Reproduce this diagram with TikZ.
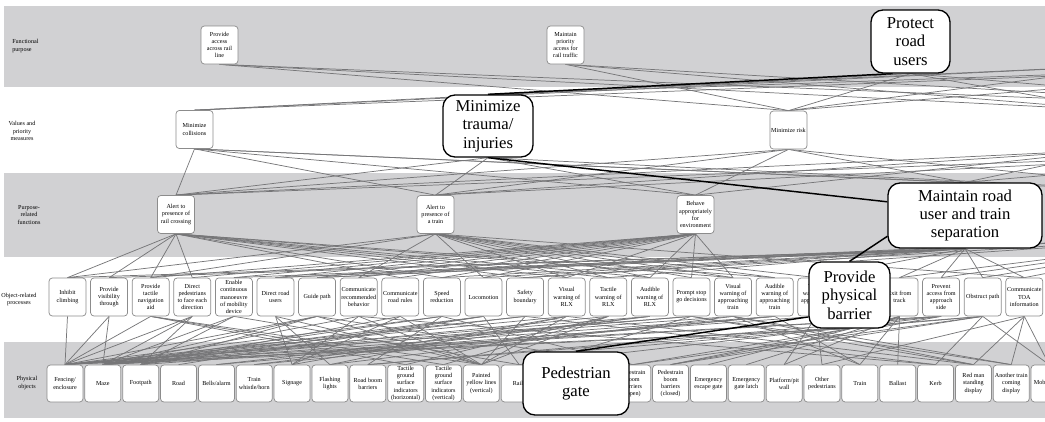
\documentclass[tikz,border=0pt]{standalone}
\usepackage{fontspec}
\setmainfont{Liberation Serif}
\definecolor{bandgray}{RGB}{209,209,211}
\definecolor{linegray}{RGB}{118,118,120}
\definecolor{boxgray}{RGB}{140,140,140}
\pgfdeclarelayer{bands}\pgfdeclarelayer{lines}
\pgfsetlayers{bands,lines,main}
\tikzset{
 sbox/.style={draw=boxgray, line width=0.55pt, rounded corners=2.5pt, fill=white, minimum width=27.75pt, minimum height=28.5pt, align=center, inner sep=0pt, font=\fontsize{4.6}{5.4}\selectfont},
 obox/.style={sbox, minimum width=27pt, minimum height=27.75pt},
 big/.style={draw=black, line width=1pt, rounded corners=9pt, fill=white, align=center, inner sep=0pt, font=\fontsize{12.5}{13.75}\selectfont},
 lab/.style={align=center, inner sep=0pt, font=\fontsize{4.6}{5.8}\selectfont},
 conn/.style={draw=linegray, line width=0.55pt},
 hl/.style={draw=black, line width=1.1pt},
}
\begin{document}
\begin{tikzpicture}[x=0.75pt,y=-0.75pt]
\useasboundingbox (0,0) rectangle (1045,421);
\clip (0,0) rectangle (1045,421);
\begin{pgfonlayer}{bands}
\fill[bandgray] (4,6) rectangle (1045,87);
\fill[bandgray] (4,173) rectangle (1045,257);
\fill[bandgray] (4,342) rectangle (1045,418);
\end{pgfonlayer}
% level labels
\node[lab, anchor=west, align=left] (L1) at (12,46) {Functional\\purpose};
\node[lab] (L2) at (22,131) {Values and\\priority\\measures};
\node[lab] (L3) at (29,215) {Purpose-\\related\\functions};
\node[lab] (L4) at (19,299.5) {Object-related\\processes};
\node[lab] (L5) at (27,383) {Physical\\objects};
% functional purpose
\node[sbox] (F1) at (219.5,45) {Provide\\access\\across rail\\line};
\node[sbox] (F2) at (565.5,45) {Maintain\\priority\\access for\\rail traffic};
\node[big, minimum width=59.25pt, minimum height=47.25pt] (F3) at (910.5,41.5) {Protect\\road\\users};
\node[sbox] (F4) at (1150,45) {};
\node[sbox] (F5) at (1350,45) {};
% values and priority measures
\node[sbox] (V1) at (194.5,129.5) {Minimize\\collisions};
\node[big, minimum width=67.5pt, minimum height=46.5pt] (V2) at (488,126) {Minimize\\trauma/\\injuries};
\node[sbox] (V3) at (788.5,130) {Minimize risk};
\node[sbox] (V4) at (1120,130) {};
\node[sbox] (V5) at (1350,130) {};
% purpose-related functions
\node[sbox] (P1) at (176,214.5) {Alert to\\presence of\\rail crossing};
\node[sbox] (P2) at (435.5,214.5) {Alert to\\presence of\\a train};
\node[sbox] (P3) at (695.5,214.5) {Behave\\appropriately\\for\\environment};
\node[sbox] (P5) at (1250,214.5) {};
% object-related processes
\node[sbox] (r4-0) at ({67.5+41.6*0},297) {Inhibit\\climbing};
\node[sbox] (r4-1) at ({67.5+41.6*1},297) {Provide\\visibility\\through};
\node[sbox] (r4-2) at ({67.5+41.6*2},297) {Provide\\tactile\\navigation\\aid};
\node[sbox] (r4-3) at ({67.5+41.6*3},297) {Direct\\pedestrians\\to face each\\direction};
\node[sbox] (r4-4) at ({67.5+41.6*4},297) {Enable\\continuous\\manoeuvre\\of mobility\\device};
\node[sbox] (r4-5) at ({67.5+41.6*5},297) {Direct road\\users};
\node[sbox] (r4-6) at ({67.5+41.6*6},297) {Guide path};
\node[sbox] (r4-7) at ({67.5+41.6*7},297) {Communicate\\recommended\\behavior};
\node[sbox] (r4-8) at ({67.5+41.6*8},297) {Communicate\\road rules};
\node[sbox] (r4-9) at ({67.5+41.6*9},297) {Speed\\reduction};
\node[sbox] (r4-10) at ({67.5+41.6*10},297) {Locomotion};
\node[sbox] (r4-11) at ({67.5+41.6*11},297) {Safety\\boundary};
\node[sbox] (r4-12) at ({67.5+41.6*12},297) {Visual\\warning of\\RLX};
\node[sbox] (r4-13) at ({67.5+41.6*13},297) {Tactile\\warning of\\RLX};
\node[sbox] (r4-14) at ({67.5+41.6*14},297) {Audible\\warning of\\RLX};
\node[sbox] (r4-15) at ({67.5+41.6*15},297) {Prompt stop\\go decisions};
\node[sbox] (r4-16) at ({67.5+41.6*16},297) {Visual\\warning of\\approaching\\train};
\node[sbox] (r4-17) at ({67.5+41.6*17},297) {Audible\\warning of\\approaching\\train};
\node[sbox] (r4-18) at ({67.5+41.6*18},297) {Tactile\\warning of\\approaching\\train};
\node[sbox] (r4-20) at ({67.5+41.6*20},297) {Exit from\\track};
\node[sbox] (r4-21) at ({67.5+41.6*21},297) {Prevent\\access from\\approach\\side};
\node[sbox] (r4-22) at ({67.5+41.6*22},297) {Obstruct path};
\node[sbox] (r4-23) at ({67.5+41.6*23},297) {Communicate\\TOA\\information};
% physical objects
\node[obox] (r5-0) at ({65+37.85*0},383.5) {Fencing/\\enclosure};
\node[obox] (r5-1) at ({65+37.85*1},383.5) {Maze};
\node[obox] (r5-2) at ({65+37.85*2},383.5) {Footpath};
\node[obox] (r5-3) at ({65+37.85*3},383.5) {Road};
\node[obox] (r5-4) at ({65+37.85*4},383.5) {Bells/alarm};
\node[obox] (r5-5) at ({65+37.85*5},383.5) {Train\\whistle/horn};
\node[obox] (r5-6) at ({65+37.85*6},383.5) {Signage};
\node[obox] (r5-7) at ({65+37.85*7},383.5) {Flashing\\lights};
\node[obox] (r5-8) at ({65+37.85*8},383.5) {Road boom\\barriers};
\node[obox] (r5-9) at ({65+37.85*9},383.5) {Tactile\\ground\\surface\\indicators\\(horizontal)};
\node[obox] (r5-10) at ({65+37.85*10},383.5) {Tactile\\ground\\surface\\indicators\\(vertical)};
\node[obox] (r5-11) at ({65+37.85*11},383.5) {Painted\\yellow lines\\(vertical)};
\node[obox] (r5-12) at ({65+37.85*12},383.5) {Rails};
\node[obox] (r5-15) at ({65+37.85*15},383.5) {Pedestrain\\boom\\barriers\\(open)};
\node[obox] (r5-16) at ({65+37.85*16},383.5) {Pedestrain\\boom\\barriers\\(closed)};
\node[obox] (r5-17) at ({65+37.85*17},383.5) {Emergency\\escape gate};
\node[obox] (r5-18) at ({65+37.85*18},383.5) {Emergency\\gate latch};
\node[obox] (r5-19) at ({65+37.85*19},383.5) {Platform/pit\\wall};
\node[obox] (r5-20) at ({65+37.85*20},383.5) {Other\\pedestrians};
\node[obox] (r5-21) at ({65+37.85*21},383.5) {Train};
\node[obox] (r5-22) at ({65+37.85*22},383.5) {Ballast};
\node[obox] (r5-23) at ({65+37.85*23},383.5) {Kerb};
\node[obox] (r5-24) at ({65+37.85*24},383.5) {Red man\\standing\\display};
\node[obox] (r5-25) at ({65+37.85*25},383.5) {Another train\\coming\\display};
\node[obox] (r5-26) at ({65+37.85*26},383.5) {Mobility aid};
% highlighted (enlarged) nodes
\node[big, minimum width=115.5pt, minimum height=48.75pt] (P4) at (965,215.5) {Maintain road\\user and train\\separation};
\node[big, minimum width=60.75pt, minimum height=49.5pt] (r4-19) at (849.5,295) {Provide\\physical\\barrier};
\node[big, minimum width=79.5pt, minimum height=47.25pt] (r5-13) at (576,383.5) {Pedestrian\\gate};
% connectors
\begin{pgfonlayer}{lines}
\foreach \u/\l in {F1/V3,F1/V4,F1/V5,F2/V3,F2/V4,F2/V5,F3/V1,F3/V3,F3/V4,F3/V5,F4/V1,F4/V2,F4/V3,F5/V1,F5/V2,F5/V3}
  \draw[conn] (\u.south) -- (\l.north);
\foreach \u/\l in {V1/P1,V1/P2,V1/P3,V1/P4,V1/P5,V2/P1,V2/P2,V2/P3,V2/P5,V3/P1,V3/P2,V3/P3,V3/P4,V3/P5,V4/P1,V4/P2,V4/P3,V4/P4,V5/P1,V5/P2,V5/P4}
  \draw[conn] (\u.south) -- (\l.north);
\foreach \l/\u in {0/P1,0/P2,0/P4,1/P1,1/P4,2/P1,2/P2,2/P3,3/P1,3/P3,4/P3,4/P4,5/P3,5/P4,5/P5,6/P3,6/P4,6/P5,7/P2,7/P3,8/P1,8/P3,9/P1,9/P3,9/P4,10/P2,10/P3,10/P4,11/P1,11/P4,11/P5,12/P1,12/P2,12/P3,13/P1,13/P2,13/P4,14/P1,14/P2,14/P3,15/P2,15/P3,16/P1,16/P2,16/P3,17/P1,17/P2,18/P2,18/P4,19/P5,20/P4,20/P5,21/P4,21/P5,22/P4,22/P5,23/P2,23/P4,23/P5}
  \draw[conn] (\u.south) -- (r4-\l.north);
\foreach \u/\l in {0/0,1/0,1/1,2/0,2/9,2/10,2/11,3/0,3/1,3/2,4/1,4/2,4/12,5/6,5/7,5/11,6/0,6/1,6/2,6/11,6/15,7/1,7/6,7/11,7/23,8/2,8/6,8/11,9/0,9/1,9/8,9/15,10/1,10/2,10/3,10/12,11/0,11/1,11/11,11/23,12/0,12/6,12/7,12/11,12/24,13/1,13/9,13/10,13/11,14/0,14/4,14/5,15/0,15/1,15/13,15/24,15/25,16/0,16/7,16/21,16/24,16/25,17/1,17/4,17/5,17/21,18/2,18/19,18/20,19/0,19/1,19/15,19/16,20/17,20/18,20/19,20/21,20/22,21/0,21/1,21/8,21/12,21/16,22/8,22/13,22/15,22/16,22/23,22/26,23/20,23/24,23/25,23/26}
  \draw[conn] (r4-\u.south) -- (r5-\l.north);
\draw[hl] (F3.241) -- (V2.north);
\draw[hl] (V2.south) -- (P4.170);
\draw[hl] (P4.195) -- (r4-19.north);
\draw[hl] (r4-19.208) -- (r5-13.north);
\end{pgfonlayer}
\end{tikzpicture}
\end{document}
